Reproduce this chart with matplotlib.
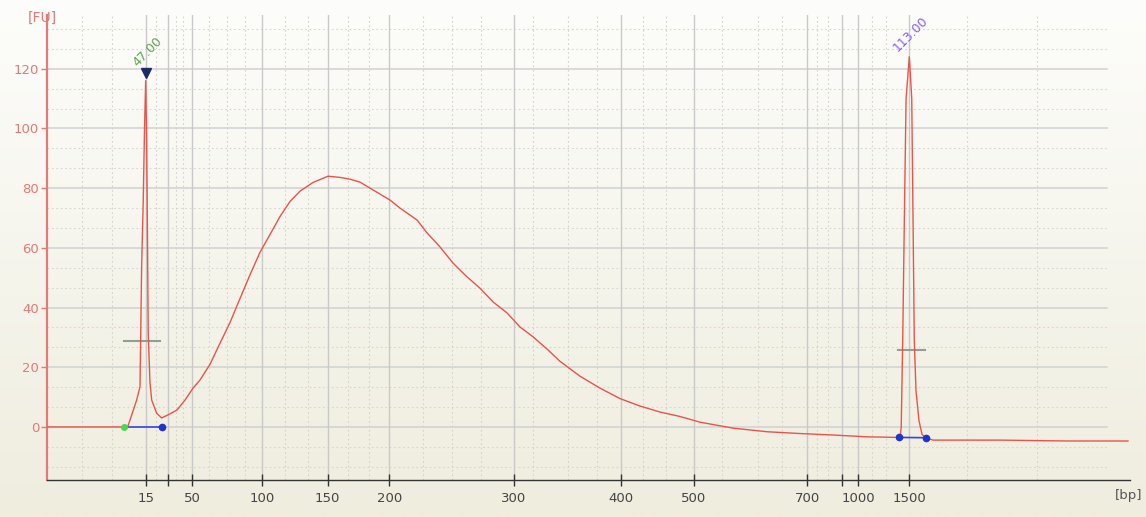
import matplotlib
matplotlib.use('Agg')
import matplotlib.pyplot as plt
import numpy as np

# migration time (s) of the ladder bands and their sizes in bp
ladder_bp = [15, 25, 50, 100, 150, 200, 300, 400, 500, 700, 850, 1000, 1500]
ladder_t = [47.0, 48.95, 51.03, 57.03, 62.73, 68.05, 78.83, 88.05, 94.39, 104.18, 107.15, 108.59, 113.0]
ladder_labels = ['15', '', '50', '100', '150', '200', '300', '400', '500', '700', '', '1000', '1500']

# electropherogram: time (s) and fluorescence (FU)
trace_t = [38.5, 43.05, 45.12, 45.47, 46.22, 46.51, 46.65, 46.79, 46.90, 47.00, 47.07, 47.13,
           47.22, 47.37, 47.52, 47.95, 48.38, 49.10, 49.71, 50.40, 51.09, 51.69, 52.56, 53.42,
           54.29, 55.15, 56.02, 56.88, 57.75, 58.61, 59.47, 60.34, 61.46, 62.76, 63.80, 64.66,
           65.53, 66.39, 67.26, 68.12, 68.99, 70.46, 71.32, 72.44, 73.56, 74.77, 75.89, 77.02,
           78.23, 79.35, 80.48, 81.77, 82.81, 84.54, 86.27, 88.00, 89.73, 91.46, 93.19, 94.91,
           97.77, 100.71, 103.56, 106.41, 109.35, 111.94, 112.21, 112.30, 112.43, 112.59, 112.72,
           113.0, 113.21, 113.32, 113.43, 113.58, 113.84, 114.10, 114.42, 115.05, 120.84, 126.63, 131.9]
trace_fu = [0.0, 0.0, 0.0, 0.3, 9.0, 13.5, 53.7, 76.0, 100.0, 116.0, 100.0, 76.0,
            31.4, 15.0, 9.0, 4.6, 3.0, 4.4, 5.7, 9.0, 13.0, 15.7, 21.0, 28.0,
            35.0, 43.0, 51.0, 58.5, 64.5, 70.5, 75.5, 79.0, 81.9, 84.0, 83.6, 83.0,
            82.0, 80.0, 78.0, 76.0, 73.3, 69.3, 65.0, 60.3, 54.9, 50.3, 46.5, 41.9,
            38.2, 33.5, 30.2, 25.8, 22.0, 17.0, 13.0, 9.5, 7.0, 5.0, 3.5, 1.6,
            -0.4, -1.6, -2.2, -2.7, -3.3, -3.5, -3.5, 0.0, 29.0, 75.0, 110.0,
            124.0, 110.0, 70.0, 29.0, 12.0, 2.0, -2.5, -3.6, -4.4, -4.4, -4.7, -4.7]

# peak markers
peak_t = [47.0, 113.0]
peak_labels = ['47.00', '113.00']
peak_colors = ['#5aa84a', '#8a5cf0']
lower_base_t = [45.12, 48.38]
lower_base_fu = [0.0, 0.0]
upper_base_t = [112.12, 114.42]
upper_base_fu = [-3.5, -3.6]
width_bars = [(45.12, 48.24, 28.8), (112.03, 114.36, 25.8)]

red = '#e8544c'
axis_red = '#e27a78'

fig = plt.figure(figsize=(11.46, 5.17), dpi=100)

# cream gradient background
bg = fig.add_axes([0, 0, 1, 1], zorder=-10)
grad = np.linspace(0, 1, 256).reshape(-1, 1)
cmap = matplotlib.colors.LinearSegmentedColormap.from_list('bg', ['#fdfdfb', '#efedde'])
bg.imshow(grad, aspect='auto', cmap=cmap, extent=[0, 1, 0, 1], origin='upper')
bg.axis('off')

ax = fig.add_axes([0.0414, 0.0716, 0.9446, 0.8994])
ax.patch.set_alpha(0)
ax.set_xlim(38.51, 132.07)
ax.set_ylim(-17.76, 138.0)

# grid
grid_end = 130.1
for y in np.arange(0, 121, 20):
    ax.plot([38.51, grid_end], [y, y], color='#cfd2d2', lw=1.1, zorder=1)
for y in list(np.arange(-13.33, 135, 20 / 3)):
    if abs(y / 20 - round(y / 20)) > 0.05:
        ax.plot([38.51, grid_end], [y, y], color='#d6d6d0', lw=0.8, ls=(0, (1.5, 2.5)), zorder=1)
for t in ladder_t:
    ax.axvline(t, color='#c9c9c9', lw=1.0, zorder=1)
minor_t = [41.47, 44.06, 47.9, 49.6, 50.2, 52.5, 54.0, 55.6, 59.0, 61.0, 64.5, 66.3,
           71.0, 73.5, 76.0, 80.5, 83.5, 86.0, 90.0, 92.0, 96.8, 99.9, 102.0, 105.0,
           106.0, 109.8, 111.0, 118.0, 124.0]
for t in minor_t:
    ax.axvline(t, color='#d3d3cc', lw=0.8, ls=(0, (1.5, 2.5)), zorder=1)

# width bars
for x0, x1, y in width_bars:
    ax.plot([x0, x1], [y, y], color='#8f9f92', lw=1.5, zorder=2)

# baselines
ax.plot(lower_base_t, lower_base_fu, color='#3344ee', lw=1.2, zorder=3)
ax.plot(upper_base_t, upper_base_fu, color='#3344ee', lw=1.2, zorder=3)

ax.plot(trace_t, trace_fu, color=red, lw=1.0, zorder=4)

ax.plot(lower_base_t[0], lower_base_fu[0], 'o', color='#44dd44', ms=4, zorder=5)
ax.plot(lower_base_t[1], lower_base_fu[1], 'o', color='#2233cc', ms=4.5, zorder=5)
ax.plot(upper_base_t, upper_base_fu, 'o', color='#2233cc', ms=4.5, zorder=5)

ax.plot(peak_t[0], 118.5, marker='v', color='#1c2a6e', ms=7, zorder=6)
ax.text(peak_t[0] - 0.5, 120.0, peak_labels[0], color=peak_colors[0], rotation=45,
        fontsize=9, ha='left', va='bottom', rotation_mode='anchor')
ax.text(peak_t[1] - 0.8, 125.0, peak_labels[1], color=peak_colors[1], rotation=45,
        fontsize=9, ha='left', va='bottom', rotation_mode='anchor')

# axes styling
for s in ['top', 'right']:
    ax.spines[s].set_visible(False)
ax.spines['left'].set_color(axis_red)
ax.spines['left'].set_linewidth(1.6)
ax.spines['bottom'].set_color('#333333')
ax.spines['bottom'].set_linewidth(1.0)

ax.set_yticks(np.arange(0, 121, 20))
ax.tick_params(axis='y', colors=axis_red, labelcolor=axis_red, labelsize=9.5, length=4, width=1, pad=2)
ax.set_xticks(ladder_t)
ax.set_xticklabels(ladder_labels)
ax.tick_params(axis='x', colors='#333333', labelcolor='#444444', labelsize=9.5, direction='inout',
               length=8, width=1, pad=5)

fig.text(0.024, 0.965, '[FU]', color=axis_red, fontsize=10, ha='left', va='center')
fig.text(0.985, 0.042, '[bp]', color='#555555', fontsize=9.5, ha='center', va='center')

plt.savefig('out.png', dpi=100)
